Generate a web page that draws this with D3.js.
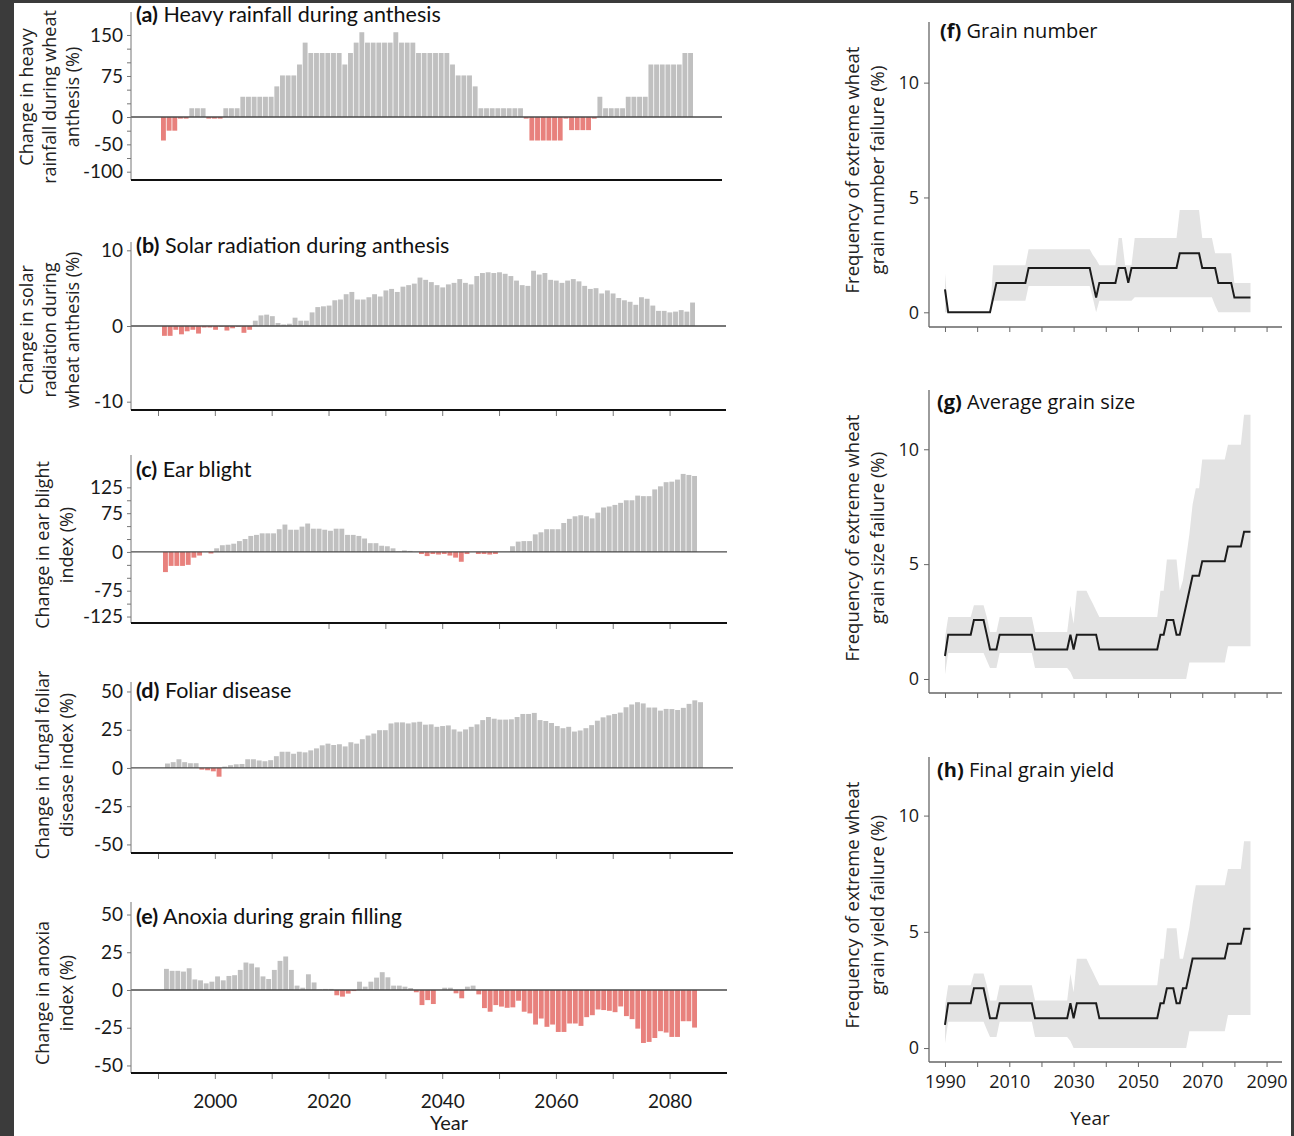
<!DOCTYPE html>
<html><head><meta charset="utf-8">
<script src="https://cdn.jsdelivr.net/npm/d3@7"></script>
<style>body{margin:0;background:#3b3b3b}svg{display:block}</style>
</head><body>
<svg id="chart" width="1294" height="1136"></svg>
<script>
// ---------- DATA ----------
const barYears = d3.range(1991, 2085);      // 94 bar years
const lineYears = d3.range(1990, 2086);     // 96 line years

const rainfall = [-43,-25,-25,-3,-3,16,16,16,-3,-3,
 -3,16,16,16,37,37,37,37,37,37,
 56,76,76,76,96,136,117,117,117,117,
 117,117,96,117,136,155,136,136,136,136,
 136,155,136,136,136,117,117,117,117,117,
 117,96,76,76,76,56,16,16,16,16,
 16,16,16,16,-3,-43,-43,-43,-43,-43,
 -43,-3,-24,-24,-24,-24,-3,37,16,16,
 16,16,37,37,37,37,96,96,96,96,
 96,96,117,117];
const solar = [-1.3,-1.3,-0.5,-1.1,-0.7,-0.5,-1.0,-0.2,-0.2,-0.5,
 -0.1,-0.6,-0.3,-0.1,-0.9,-0.5,0.7,1.4,1.5,1.3,
 0.4,0.2,0.3,1.1,0.7,0.7,1.8,2.5,2.6,2.7,
 3.4,3.5,4.2,4.5,3.5,3.5,3.8,4.2,3.9,4.7,
 4.9,4.5,5.2,5.4,5.6,6.4,6.1,5.8,5.4,5.1,
 5.5,5.7,6.2,5.7,5.5,6.6,7.0,7.1,7.0,7.1,
 6.9,6.6,6.0,5.4,5.3,7.3,6.8,7.0,6.1,6.0,
 5.7,6.0,6.2,5.9,5.3,4.9,5.0,4.3,4.7,4.3,
 3.7,3.4,3.2,2.8,3.8,3.6,2.7,2.0,2.0,1.8,
 1.9,2.1,1.9,3.1];
const earBlight = [-39,-27,-27,-27,-25,-11,-7,0,-3,7,
 13,14,16,21,25,31,33,36,36,36,
 44,53,43,43,49,55,45,45,43,41,
 45,45,33,33,31,26,17,17,12,11,
 7,1,3,2,0,-4,-8,-4,-5,-4,
 -7,-11,-19,-4,0,-4,-4,-5,-4,0,
 0,11,20,21,21,34,38,44,44,44,
 56,64,69,71,69,65,76,86,88,91,
 95,100,100,109,108,108,121,127,135,136,
 140,151,149,147];
const foliar = [2.9,3.8,5.7,3.8,3.1,3.1,-1.1,-1.5,-2.2,-5.7,
 0.9,1.8,2.4,2.6,5.7,5.7,4.9,4.4,5.1,7.7,
 10.6,10.6,9.3,10.6,10.2,11.5,12.8,14.8,15.9,15,
 15.5,14.1,16.8,15.9,18.8,21.2,22.5,24.7,24.7,29.1,
 29.8,29.8,29.1,29.8,30.2,28.3,28.5,26.9,27.4,27.8,
 25.2,23.8,25.2,26.9,28.5,31.3,33.3,32.2,31.6,31.6,
 31.8,33.3,35.3,35.3,36,31.3,30.7,29.4,27.4,26,
 26.9,23.8,24.5,26,28,30.9,33.1,34.4,35.3,36.2,
 39.7,41.5,43,42.2,39.5,39.5,37.5,38.6,38.5,37.9,
 39.3,41.9,44.2,43];
const anoxia = [14,12.7,12.7,12.2,14.4,7,6.4,4.4,5.5,9,
 6.4,9.3,9.8,13.3,18.2,17.5,15,9,7.3,13.3,
 19.3,22.2,13.3,2.9,1.5,10.4,5,0.4,0.7,0.7,
 -3.5,-4.4,-2.4,-0.7,5.5,2.2,5.5,8.2,11.8,8.4,
 2.9,2.9,2.2,1.3,-1.5,-10,-6.7,-9.3,0,1.5,
 1.5,-2.2,-5.5,2.2,2.9,-2.9,-12,-14.4,-10,-11,
 -11.8,-11.5,-7.1,-14.4,-15.5,-22.9,-18.9,-24.4,-22.9,-27.8,
 -27.8,-22.2,-22.2,-23.8,-18,-16.7,-12.9,-13.3,-13.8,-14.7,
 -10.9,-17.3,-19.3,-25.6,-35.1,-34.4,-31.8,-27.3,-28.2,-31.1,
 -31.1,-20.7,-20.7,-24.9];

// right panels: mean and uncertainty band, one value per year 1990..2085
const fMean = [1.0,
 0,0,0,0,0,0,0,0,0,0,0,0,0,0,
 0.64,
 1.28,1.28,1.28,1.28,1.28,1.28,1.28,1.28,1.28,1.28,
 1.93,1.93,1.93,1.93,1.93,1.93,1.93,1.93,1.93,1.93,1.93,1.93,1.93,1.93,1.93,1.93,1.93,1.93,1.93,1.93,
 1.28,0.64,
 1.28,1.28,1.28,1.28,1.28,1.28,
 1.93,1.93,1.93,
 1.28,
 1.93,1.93,1.93,1.93,1.93,1.93,1.93,1.93,1.93,1.93,1.93,1.93,1.93,1.93,1.93,
 2.57,2.57,2.57,2.57,2.57,2.57,2.57,
 1.93,1.93,1.93,1.93,1.93,
 1.28,1.28,1.28,1.28,1.28,
 0.64,0.64,0.64,0.64,0.64,0.64];
const fLo = [0,
 0,0,0,0,0,0,0,0,0,0,0,0,0,0,
 0.5,0.5,0.5,0.5,0.5,0.5,0.5,0.5,0.5,0.5,0.5,
 1.14,1.14,1.14,1.14,1.14,1.14,1.14,1.14,1.14,1.14,1.14,1.14,1.14,1.14,1.14,1.14,1.14,1.14,1.14,1.14,
 0.6,0,
 0.5,0.5,0.5,0.5,0.5,0.5,0.5,0.5,0.5,0.5,0.5,
 0.65,0.65,0.65,0.65,0.65,0.65,0.65,0.65,0.65,0.65,0.65,0.65,0.65,0.65,0.65,0.65,0.65,0.65,0.65,0.65,0.65,0.65,0.65,0.65,0.65,
 0.3,
 0,0,0,0,0,0,0,0,0,0,0];
const fHi = [1.7,
 0,0,0,0,0,0,0,0,0,0,0,0,0,0,
 2.05,2.05,2.05,2.05,2.05,2.05,2.05,2.05,2.05,2.05,2.05,
 2.74,2.74,2.74,2.74,2.74,2.74,2.74,2.74,2.74,2.74,2.74,2.74,2.74,2.74,2.74,2.74,2.74,2.74,2.74,2.74,
 2.5,2.3,
 2.05,2.05,2.05,2.05,2.05,2.05,
 3.24,3.24,
 2.05,2.05,2.05,
 3.24,3.24,3.24,3.24,3.24,3.24,3.24,3.24,3.24,3.24,3.24,3.24,3.24,3.24,
 4.45,4.45,4.45,4.45,4.45,4.45,4.45,
 3.24,3.24,3.24,3.24,
 2.57,2.57,2.57,2.57,2.57,2.57,
 1.28,1.28,1.28,1.28,1.28,1.28];

const gMean = [1.0,
 1.93,1.93,1.93,1.93,1.93,1.93,1.93,1.93,
 2.57,2.57,2.57,2.57,
 1.93,
 1.28,1.28,1.28,
 1.93,1.93,1.93,1.93,1.93,1.93,1.93,1.93,1.93,1.93,1.93,
 1.28,1.28,1.28,1.28,1.28,1.28,1.28,1.28,1.28,1.28,1.28,
 1.93,1.28,
 1.93,1.93,1.93,1.93,1.93,1.93,1.93,
 1.28,1.28,1.28,1.28,1.28,1.28,1.28,1.28,1.28,1.28,1.28,1.28,1.28,1.28,1.28,1.28,1.28,1.28,1.28,
 1.93,1.93,
 2.57,2.57,2.57,
 1.93,1.93,
 2.57,3.21,3.85,
 4.49,4.49,4.49,
 5.13,5.13,5.13,5.13,5.13,5.13,5.13,5.13,
 5.77,5.77,5.77,5.77,5.77,
 6.41,6.41,6.41];
const gLo = [0.2,
 1.13,1.13,1.13,1.13,1.13,1.13,1.13,1.13,1.13,1.13,1.13,1.13,
 0.8,
 0.48,0.48,0.48,
 1.13,1.13,1.13,1.13,1.13,1.13,1.13,1.13,1.13,1.13,1.13,
 0.48,0.48,0.48,0.48,0.48,0.48,0.48,0.48,0.48,0.48,0.48,
 0.3,
 0,0,0,0,0,0,0,0,0,0,0,0,0,0,0,0,0,0,0,0,0,0,0,0,0,0,0,0,0,0,0,0,0,0,0,0,
 0.72,0.72,0.72,0.72,0.72,0.72,0.72,0.72,0.72,0.72,0.72,0.72,
 1.42,1.42,1.42,1.42,1.42,1.42,1.42,1.42];
const gHi = [1.8,
 2.7,2.7,2.7,2.7,2.7,2.7,2.7,2.7,
 3.21,3.21,3.21,3.21,
 2.7,
 2.05,2.05,2.05,
 2.7,2.7,2.7,2.7,2.7,2.7,2.7,2.7,2.7,2.7,2.7,
 2.05,2.05,2.05,2.05,2.05,2.05,2.05,2.05,2.05,2.05,2.05,
 3.2,2.4,
 3.84,3.84,3.84,3.84,
 3.55,3.27,2.98,
 2.7,2.7,2.7,2.7,2.7,2.7,2.7,2.7,2.7,2.7,2.7,2.7,2.7,2.7,2.7,2.7,2.7,2.7,2.7,
 3.84,3.84,
 5.2,5.2,5.2,5.2,
 3.84,
 4.3,5.3,6.3,7.6,
 8.3,8.3,
 9.55,9.55,9.55,9.55,9.55,9.55,9.55,9.55,
 10.2,10.2,10.2,10.2,10.2,
 11.5,11.5,11.5];

const hMean = [1.0,
 1.93,1.93,1.93,1.93,1.93,1.93,1.93,1.93,
 2.57,2.57,2.57,2.57,
 1.93,
 1.28,1.28,1.28,
 1.93,1.93,1.93,1.93,1.93,1.93,1.93,1.93,1.93,1.93,1.93,
 1.28,1.28,1.28,1.28,1.28,1.28,1.28,1.28,1.28,1.28,1.28,
 1.93,1.28,
 1.93,1.93,1.93,1.93,1.93,1.93,1.93,
 1.28,1.28,1.28,1.28,1.28,1.28,1.28,1.28,1.28,1.28,1.28,1.28,1.28,1.28,1.28,1.28,1.28,1.28,1.28,
 1.93,1.93,
 2.57,2.57,2.57,
 1.93,1.93,
 2.57,2.57,
 3.21,
 3.85,3.85,3.85,3.85,3.85,3.85,3.85,3.85,3.85,3.85,3.85,
 4.49,4.49,4.49,4.49,4.49,
 5.13,5.13,5.13];
const hLo = [0.2,
 1.13,1.13,1.13,1.13,1.13,1.13,1.13,1.13,1.13,1.13,1.13,1.13,
 0.8,
 0.48,0.48,0.48,
 1.13,1.13,1.13,1.13,1.13,1.13,1.13,1.13,1.13,1.13,1.13,
 0.48,0.48,0.48,0.48,0.48,0.48,0.48,0.48,0.48,0.48,0.48,
 0.3,
 0,0,0,0,0,0,0,0,0,0,0,0,0,0,0,0,0,0,0,0,0,0,0,0,0,0,0,0,0,0,0,0,0,0,0,0,
 0.72,0.72,0.72,0.72,0.72,0.72,0.72,0.72,0.72,0.72,0.72,0.72,
 1.42,1.42,1.42,1.42,1.42,1.42,1.42,1.42];
const hHi = [1.8,
 2.7,2.7,2.7,2.7,2.7,2.7,2.7,2.7,
 3.21,3.21,3.21,3.21,
 2.7,
 2.05,2.05,2.05,
 2.7,2.7,2.7,2.7,2.7,2.7,2.7,2.7,2.7,2.7,2.7,
 2.05,2.05,2.05,2.05,2.05,2.05,2.05,2.05,2.05,2.05,2.05,
 3.2,2.4,
 3.84,3.84,3.84,3.84,
 3.55,3.27,2.98,
 2.7,2.7,2.7,2.7,2.7,2.7,2.7,2.7,2.7,2.7,2.7,2.7,2.7,2.7,2.7,2.7,2.7,2.7,2.7,
 3.84,3.84,
 5.15,5.15,5.15,5.15,
 3.84,3.84,
 4.5,5.2,6.2,
 7.0,7.0,7.0,7.0,7.0,7.0,7.0,7.0,7.0,7.0,
 7.7,7.7,7.7,7.7,7.7,
 8.9,8.9,8.9];

// tick values / labels
const rainTicks = [-100,-75,-50,-25,0,25,50,75,100,125,150];
const rainLabels = [150,75,0,-50,-100];
const solarTicks = [-10,0,10];
const blightTicks = [-125,-100,-75,-50,-25,0,25,50,75,100,125];
const blightLabels = [125,75,0,-75,-125];
const pctTicks = [-50,-25,0,25,50];
const decadeTicks = [1990,2000,2010,2020,2030,2040,2050,2060,2070,2080];
const lateDecadeTicks = [2020,2030,2040,2050,2060,2070,2080];
const leftYearLabels = [2000,2020,2040,2060,2080];
const rightDecadeTicks = [1990,2000,2010,2020,2030,2040,2050,2060,2070,2080,2090];
const rightYearLabels = [1990,2010,2030,2050,2070,2090];
const freqTicks = [0,5,10];

// ---------- DRAW ----------
const svg = d3.select('#chart');
svg.append('rect').attr('width',1294).attr('height',1136).attr('fill','#3b3b3b');
svg.append('rect').attr('x',14).attr('y',3).attr('width',1277).attr('height',1133).attr('fill','#ffffff');

const GRAY = '#c0c0c0', RED = '#e8817d';
const NARROW = 'Lato, "Liberation Sans Narrow", sans-serif';
const WIDE = '"Open Sans", "Noto Sans", sans-serif';

const xL = d3.scaleLinear().domain([1985.25, 2090.1]).range([131, 727]);

const leftPanels = [
  {letter:'(a)', title:'Heavy rainfall during anthesis', values:rainfall, domain:[-115.2,192], top:12, bottom:180, right:722, bars:[161,693],
   ticks:rainTicks, labels:rainLabels, xticks:[], ytitle:['Change in heavy','rainfall during wheat','anthesis (%)'], ytx:[27,50,73], ytc:97, tb:22},
  {letter:'(b)', title:'Solar radiation during anthesis', values:solar, domain:[-11.1,11.1], top:242, bottom:410, right:726, bars:[162,695],
   ticks:solarTicks, labels:solarTicks, xticks:decadeTicks, ytitle:['Change in solar','radiation during','wheat anthesis (%)'], ytx:[27,50,73], ytc:330, tb:253},
  {letter:'(c)', title:'Ear blight', values:earBlight, domain:[-137.5,187.6], top:455, bottom:623, right:727, bars:[163,697],
   ticks:blightTicks, labels:blightLabels, xticks:lateDecadeTicks, ytitle:['Change in ear blight','index (%)'], ytx:[43,67], ytc:545, tb:477},
  {letter:'(d)', title:'Foliar disease', values:foliar, domain:[-55.6,56.2], top:682, bottom:853, right:733, bars:[165,703],
   ticks:pctTicks, labels:pctTicks, xticks:decadeTicks, ytitle:['Change in fungal foliar','disease index (%)'], ytx:[43,67], ytc:765, tb:698},
  {letter:'(e)', title:'Anoxia during grain filling', values:anoxia, domain:[-55,58.3], top:902, bottom:1073, right:727, bars:[164,697],
   ticks:pctTicks, labels:pctTicks, xticks:decadeTicks, ytitle:['Change in anoxia','index (%)'], ytx:[43,67], ytc:993, tb:924, xlabels:leftYearLabels}
];

leftPanels.forEach(p => {
  const y = d3.scaleLinear().domain(p.domain).range([p.bottom, p.top]);
  const xB = d3.scaleBand().domain(barYears).range(p.bars).paddingInner(0.14);
  const g = svg.append('g');
  g.selectAll('rect.bar').data(p.values).join('rect').attr('class','bar')
    .attr('x', (d,i) => xB(barYears[i])).attr('width', xB.bandwidth())
    .attr('y', d => Math.min(y(d), y(0))).attr('height', d => Math.abs(y(d) - y(0)))
    .attr('fill', d => d < 0 ? RED : GRAY);
  g.append('line').attr('x1',131).attr('x2',p.right).attr('y1',y(0)).attr('y2',y(0))
    .attr('stroke','#4a4a4a').attr('stroke-width',1.3);
  // y axis
  const ya = d3.axisLeft(y).tickValues(p.ticks).tickSize(4).tickPadding(4)
    .tickFormat(d => p.labels.includes(d) ? String(d) : '');
  const yg = g.append('g').attr('transform','translate(131,0)').call(ya);
  yg.select('.domain').remove();
  yg.selectAll('.tick line').attr('stroke','#777');
  yg.selectAll('.tick text').attr('font-family',NARROW).attr('font-size',19).attr('fill','#1a1a1a');
  g.append('line').attr('x1',131).attr('x2',131).attr('y1',p.top).attr('y2',p.bottom).attr('stroke','#777').attr('stroke-width',1);
  // x axis
  const xa = d3.axisBottom(xL).tickValues(p.xticks).tickSize(6).tickPadding(16)
    .tickFormat(d => (p.xlabels && p.xlabels.includes(d)) ? String(d) : '');
  const xg = g.append('g').attr('transform',`translate(0,${p.bottom})`).call(xa);
  xg.select('.domain').remove();
  xg.selectAll('.tick line').attr('stroke','#777');
  xg.selectAll('.tick text').attr('font-family',NARROW).attr('font-size',19).attr('fill','#1a1a1a');
  g.append('line').attr('x1',131).attr('x2',p.right).attr('y1',p.bottom).attr('y2',p.bottom)
    .attr('stroke','#111').attr('stroke-width',2);
  // title
  const t = g.append('text').attr('x',136).attr('y',p.tb).attr('font-family',NARROW).attr('font-size',21.5).attr('fill','#111');
  t.append('tspan').attr('font-weight','bold').text(p.letter);
  t.append('tspan').text(' ' + p.title);
  // y title
  p.ytitle.forEach((line,i) => {
    g.append('text').attr('transform',`translate(${p.ytx[i]+6},${p.ytc}) rotate(-90)`)
      .attr('text-anchor','middle').attr('font-family',WIDE).attr('font-size',18).attr('fill','#222').text(line);
  });
});
svg.append('text').attr('x',449).attr('y',1130).attr('text-anchor','middle')
  .attr('font-family',NARROW).attr('font-size',20).attr('fill','#1a1a1a').text('Year');

// ---------- right panels ----------
const xR = d3.scaleLinear().domain([1985.03, 2094.8]).range([929, 1282]);
const rightPanels = [
  {letter:'(f)', title:'Grain number', mean:fMean, lo:fLo, hi:fHi, domain:[-0.64,12.64], top:22, bottom:327, tx:940, tb:38,
   ytitle:['Frequency of extreme wheat','grain number failure (%)'], ytc:170},
  {letter:'(g)', title:'Average grain size', mean:gMean, lo:gLo, hi:gHi, domain:[-0.61,12.58], top:390, bottom:693, tx:937, tb:409,
   ytitle:['Frequency of extreme wheat','grain size failure (%)'], ytc:538},
  {letter:'(h)', title:'Final grain yield', mean:hMean, lo:hLo, hi:hHi, domain:[-0.6,12.52], top:757, bottom:1062, tx:937, tb:777,
   ytitle:['Frequency of extreme wheat','grain yield failure (%)'], ytc:905, xlabels:rightYearLabels}
];
rightPanels.forEach(p => {
  const y = d3.scaleLinear().domain(p.domain).range([p.bottom, p.top]);
  const g = svg.append('g');
  const area = d3.area().x((d,i) => xR(lineYears[i])).y0((d,i) => y(p.lo[i])).y1((d,i) => y(p.hi[i]));
  g.append('path').datum(p.mean).attr('d', area).attr('fill','#e3e3e3');
  const line = d3.line().x((d,i) => xR(lineYears[i])).y(d => y(d));
  g.append('path').datum(p.mean).attr('d', line).attr('fill','none').attr('stroke','#1c1c1c').attr('stroke-width',2);
  const ya = d3.axisLeft(y).tickValues(freqTicks).tickSize(5).tickPadding(5).tickFormat(d => String(d));
  const yg = g.append('g').attr('transform','translate(929,0)').call(ya);
  yg.select('.domain').remove();
  yg.selectAll('.tick line').attr('stroke','#666');
  yg.selectAll('.tick text').attr('font-family',WIDE).attr('font-size',18).attr('fill','#1a1a1a');
  g.append('line').attr('x1',929).attr('x2',929).attr('y1',p.top).attr('y2',p.bottom).attr('stroke','#666').attr('stroke-width',1.3);
  const xa = d3.axisBottom(xR).tickValues(rightDecadeTicks).tickSize(5).tickPadding(8)
    .tickFormat(d => (p.xlabels && p.xlabels.includes(d)) ? String(d) : '');
  const xg = g.append('g').attr('transform',`translate(0,${p.bottom})`).call(xa);
  xg.select('.domain').remove();
  xg.selectAll('.tick line').attr('stroke','#666');
  xg.selectAll('.tick text').attr('font-family',WIDE).attr('font-size',18).attr('fill','#1a1a1a');
  g.append('line').attr('x1',929).attr('x2',1282).attr('y1',p.bottom).attr('y2',p.bottom).attr('stroke','#666').attr('stroke-width',1.3);
  const t = g.append('text').attr('x',p.tx).attr('y',p.tb).attr('font-family',WIDE).attr('font-size',20).attr('fill','#111');
  t.append('tspan').attr('font-weight','bold').text(p.letter);
  t.append('tspan').text(' ' + p.title);
  p.ytitle.forEach((line,i) => {
    g.append('text').attr('transform',`translate(${859 + i*25},${p.ytc}) rotate(-90)`)
      .attr('text-anchor','middle').attr('font-family',WIDE).attr('font-size',18.5).attr('fill','#222').text(line);
  });
});
svg.append('text').attr('x',1090).attr('y',1125).attr('text-anchor','middle')
  .attr('font-family',WIDE).attr('font-size',19).attr('fill','#1a1a1a').text('Year');
</script>
</body></html>
